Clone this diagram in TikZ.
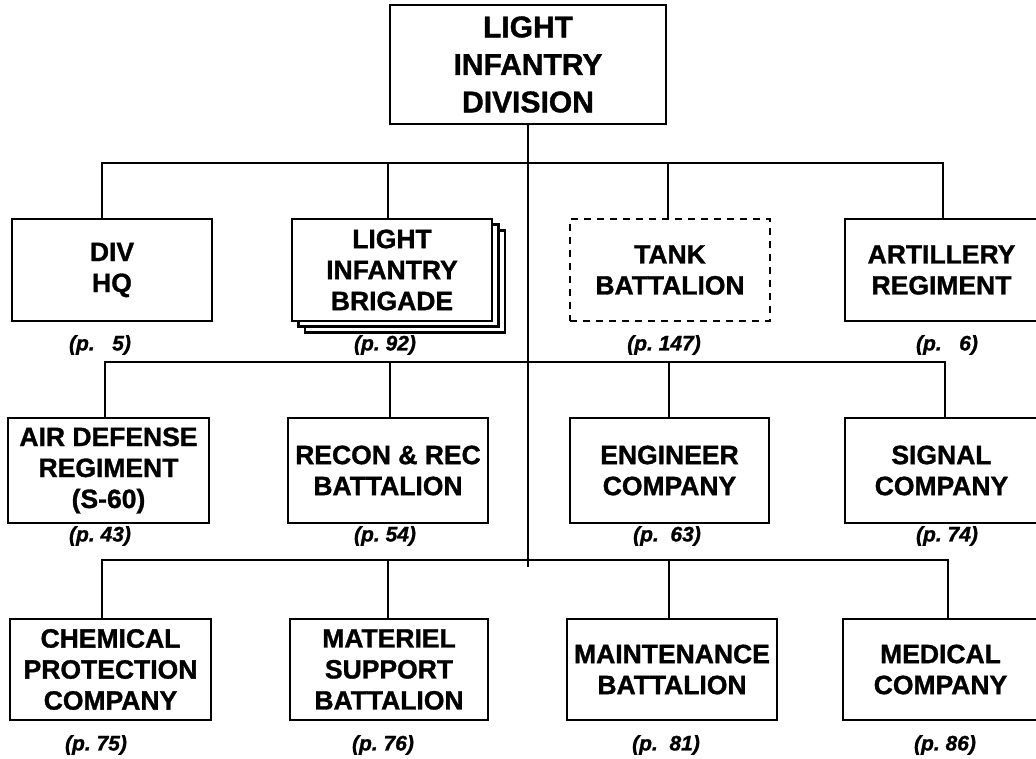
\documentclass[tikz,border=0pt]{standalone}
\usepackage{fontspec}
\setmainfont{Liberation Sans}[BoldFeatures={FakeBold=1.2},BoldItalicFeatures={FakeBold=1.2}]
\begin{document}
\begin{tikzpicture}[x=1pt,y=-1pt, line width=2.6pt, line join=miter,
  box/.style={draw, fill=white, align=center, inner sep=0pt,
    font=\bfseries\fontsize{26.5}{31}\selectfont},
  dashbox/.style={box, dash pattern=on 7pt off 6pt},
  lbl/.style={font=\bfseries\itshape\fontsize{21}{24}\selectfont, inner sep=0pt}]
\useasboundingbox (0,0) rectangle (1036,759);

% top
\node[box, minimum width=276pt, minimum height=119pt,
  font=\bfseries\fontsize{30}{37.5}\selectfont] (top) at (528,64.5) {LIGHT\\INFANTRY\\DIVISION};

% row 1
\node[box, minimum width=200pt, minimum height=102pt] (hq) at (112,270) {DIV\\HQ};
\node[box, minimum width=200pt, minimum height=102pt] (brig3) at (405,281.5) {};
\node[box, minimum width=200pt, minimum height=102pt] (brig2) at (398.5,275.5) {};
\node[box, minimum width=200pt, minimum height=102pt] (brig) at (392,270) {LIGHT\\INFANTRY\\BRIGADE};
\node[dashbox, minimum width=200pt, minimum height=102pt] (tank) at (670,270) {TANK\\BATTALION};
\node[box, minimum width=193pt, minimum height=102pt] (art) at (941.5,270) {ARTILLERY\\REGIMENT};

% row 2
\node[box, minimum width=201pt, minimum height=105pt] (adr) at (108.5,470.5) {AIR DEFENSE\\REGIMENT\\(S-60)};
\node[box, minimum width=200pt, minimum height=105pt] (rec) at (388,470.5) {RECON \& REC\\BATTALION};
\node[box, minimum width=199pt, minimum height=105pt] (eng) at (669.5,470.5) {ENGINEER\\COMPANY};
\node[box, minimum width=193pt, minimum height=105pt] (sig) at (941.5,470.5) {SIGNAL\\COMPANY};

% row 3
\node[box, minimum width=201pt, minimum height=101pt] (chem) at (110.5,669.5) {CHEMICAL\\PROTECTION\\COMPANY};
\node[box, minimum width=198pt, minimum height=101pt] (mat) at (389,669.5) {MATERIEL\\SUPPORT\\BATTALION};
\node[box, minimum width=210pt, minimum height=101pt] (mnt) at (672,669.5) {MAINTENANCE\\BATTALION};
\node[box, minimum width=195pt, minimum height=101pt] (med) at (940.5,669.5) {MEDICAL\\COMPANY};

% labels
\node[lbl] (l1) at (100,345) {(p.~\hphantom{0}5)};
\node[lbl] (l2) at (385,345) {(p.~92)};
\node[lbl] (l3) at (664,345) {(p.~147)};
\node[lbl] (l4) at (947,345) {(p.~\hphantom{0}6)};
\node[lbl] (l5) at (100,536) {(p.~43)};
\node[lbl] (l6) at (385,536) {(p.~54)};
\node[lbl] (l7) at (667,536) {(p.~~63)};
\node[lbl] (l8) at (947,536) {(p.~74)};
\node[lbl] (l9) at (96,745) {(p.~75)};
\node[lbl] (l10) at (383,745) {(p.~76)};
\node[lbl] (l11) at (666,745) {(p.~~81)};
\node[lbl] (l12) at (945,745) {(p.~86)};

% bus coordinates
\coordinate (a1) at (102,163); \coordinate (a2) at (388,163);
\coordinate (a3) at (668,163); \coordinate (a4) at (943,163);
\coordinate (b1) at (105,362); \coordinate (b2) at (390,362);
\coordinate (b3) at (669,362); \coordinate (b4) at (945,362);
\coordinate (c1) at (102,560); \coordinate (c2) at (388,560);
\coordinate (c3) at (669,560); \coordinate (c4) at (948,560);
\coordinate (tend) at (528,567);

% trunk
\draw (top.south) -- (tend);

% row 1 connectors
\draw (a1 |- hq.north) -- (a1) -- (a4) -- (a4 |- art.north);
\draw (a2) -- (a2 |- brig.north);
\draw (a3) -- (a3 |- tank.north);

% row 2 connectors
\draw (b1 |- adr.north) -- (b1) -- (b4) -- (b4 |- sig.north);
\draw (b2) -- (b2 |- rec.north);
\draw (b3) -- (b3 |- eng.north);

% row 3 connectors
\draw (c1 |- chem.north) -- (c1) -- (c4) -- (c4 |- med.north);
\draw (c2) -- (c2 |- mat.north);
\draw (c3) -- (c3 |- mnt.north);
\end{tikzpicture}
\end{document}
